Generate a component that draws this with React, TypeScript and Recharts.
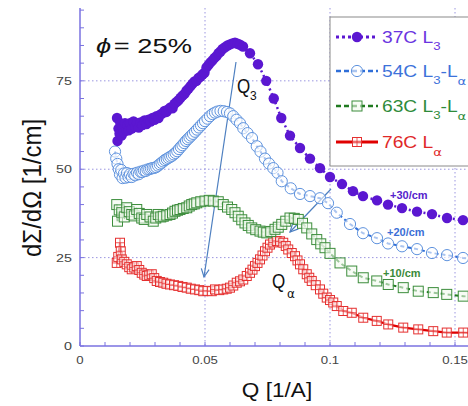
import React from 'react';
import { LineChart, Line, XAxis, YAxis, CartesianGrid, Customized } from 'recharts';

// ---------- data ----------
const q37 = [0.0148,0.015,0.0154,0.0158,0.0162,0.0166,0.017,0.0175,0.018,0.0185,0.019,0.0195,0.02,0.0207,0.0214,0.0221,0.0228,0.0235,0.0242,0.025,0.0258,0.0266,0.0274,0.0282,0.029,0.0298,0.0306,0.0314,0.0322,0.033,0.0338,0.0346,0.0354,0.0362,0.037,0.0378,0.0386,0.0394,0.0402,0.041,0.0418,0.0426,0.0434,0.0442,0.045,0.0458,0.0466,0.0474,0.0482,0.049,0.0498,0.0506,0.0514,0.0522,0.053,0.0538,0.0546,0.0554,0.0562,0.057,0.058,0.059,0.06,0.061,0.062,0.063,0.064,0.0652,0.068,0.0712,0.0745,0.0775,0.0805,0.084,0.088,0.092,0.096,0.1,0.1048,0.1092,0.1132,0.1188,0.1232,0.1288,0.1348,0.1408,0.1468,0.1532,0.159,0.165];
const v37 = [64.5,58,61.5,60,63,59.5,62,60.5,63,61,62.5,61,63,61.5,63.5,62,63,61.8,63.2,62.5,63.8,62.8,64,63.5,64.5,64,65,64.5,65.5,65.8,66.5,66.2,67,67.5,67.2,68.5,69,69.5,70.2,70.8,71.3,72.2,72.8,73.5,74.2,74.8,75,75.8,76.2,76.8,77.3,78.8,79.5,80.2,80.8,81.5,82,82.8,83.3,84,84.5,85,85.3,85.6,85.8,85.5,85.2,84.7,82.8,79.7,75,70,64.5,59.5,56,53,50.3,47.8,45.8,43.8,42.4,41.2,40,39,38,37.3,36.2,35.6,35,34.5];

const q54 = [0.014,0.0145,0.015,0.0155,0.016,0.0165,0.017,0.0176,0.0182,0.0188,0.0194,0.02,0.0207,0.0214,0.0221,0.0228,0.0235,0.0242,0.0249,0.0256,0.0263,0.027,0.0277,0.0284,0.0291,0.0298,0.0305,0.0312,0.0319,0.0326,0.0333,0.034,0.0347,0.0354,0.0361,0.0368,0.0375,0.0382,0.0389,0.0396,0.0403,0.041,0.0417,0.0424,0.0431,0.0438,0.0445,0.0452,0.046,0.0468,0.0476,0.0484,0.0492,0.05,0.051,0.052,0.053,0.054,0.055,0.0562,0.0575,0.0588,0.06,0.0613,0.0626,0.064,0.0653,0.067,0.0688,0.0707,0.0722,0.074,0.0756,0.0773,0.079,0.0807,0.0843,0.088,0.092,0.096,0.0992,0.1027,0.108,0.1132,0.1188,0.1232,0.1288,0.1348,0.1408,0.1468,0.1532,0.159,0.165];
const v54 = [55,53,51.5,50,48.5,49.8,47.5,48.8,47.6,48.9,47.8,48.6,47.8,48.7,48.3,49,48.6,49.3,49.2,49.6,49.5,49.9,50,50.2,50.3,50.4,50.6,51,51.4,51.8,52.2,52.6,52.9,53.2,53.5,53.8,54.2,54.6,55.1,55.7,56.3,56.8,57.4,58,58.5,59,59.5,60,60.6,61.2,61.8,62.4,63,63.6,64.3,65,65.6,66,66.3,66.5,66.4,66.2,65.8,65,64,63,61.6,60.2,58.8,56.5,55,53,51.6,50.3,49,46.6,44.6,43,42.4,41.8,40.4,37.7,34.5,31.9,30.5,29,28.2,27.4,26.3,25.7,24.9,24.4,24];

const q63 = [0.0147,0.015,0.0157,0.0167,0.0177,0.0187,0.0197,0.0207,0.0217,0.0227,0.0237,0.0247,0.0257,0.0267,0.028,0.0293,0.0303,0.0313,0.0323,0.0333,0.0347,0.036,0.037,0.038,0.039,0.04,0.0413,0.0427,0.0437,0.0447,0.0457,0.0467,0.0483,0.05,0.0517,0.0533,0.0553,0.0573,0.059,0.0607,0.062,0.0633,0.0647,0.066,0.0673,0.0687,0.0703,0.072,0.0733,0.0747,0.0763,0.078,0.0793,0.0807,0.0823,0.084,0.0857,0.0873,0.089,0.0907,0.0927,0.0947,0.0963,0.098,0.1,0.104,0.1087,0.1133,0.1187,0.1233,0.1293,0.1353,0.1413,0.1467,0.1533,0.159,0.165];
const v63 = [40,35.3,38.5,37.7,36.5,39.1,38,37.2,36.8,38.6,37.5,36.2,35.8,37.2,36.5,35.3,36.2,37.2,36.5,36.7,37,37.2,37.6,38.1,38.4,38.6,38.9,39.1,39.6,40,40.2,40.5,40.8,41,41.2,41,40.8,40,39.3,38.6,37.7,36.7,35.7,34.8,34.1,33.4,32.9,32.5,32.2,32,32.4,33,33.6,34.4,35.3,36.2,36.1,35.8,34.7,33.4,31.7,30.1,28.9,27.8,26.2,23.5,21.2,19.3,18.4,17.4,16.5,15.5,15.1,14.6,14.1,13.7,13.4];

const q76 = [0.0147,0.0153,0.016,0.0163,0.0167,0.0177,0.0187,0.0197,0.0207,0.0217,0.0227,0.0237,0.0247,0.0257,0.0267,0.0277,0.0287,0.0297,0.0307,0.032,0.0333,0.0346,0.036,0.0376,0.0393,0.041,0.0427,0.0443,0.046,0.0477,0.0493,0.051,0.0527,0.054,0.0557,0.0573,0.0587,0.06,0.0613,0.0627,0.064,0.0653,0.0667,0.068,0.069,0.07,0.071,0.072,0.073,0.074,0.075,0.076,0.0773,0.0787,0.08,0.0813,0.0823,0.0833,0.0847,0.086,0.087,0.088,0.0893,0.0907,0.0917,0.0927,0.0943,0.096,0.0973,0.0987,0.1,0.1013,0.1027,0.1053,0.1087,0.1133,0.1187,0.1233,0.1293,0.1353,0.1413,0.1467,0.1533,0.159,0.165];
const v76 = [23.5,25.2,29.2,26.8,24.5,23.8,23.1,22.3,21.7,22.2,22.6,21.5,20.7,20.2,19.8,20,20.3,19.2,18.4,18.1,17.9,17.6,17.4,17.2,17,16.7,16.5,16.2,16,15.8,15.5,15.6,15.5,16,15.8,16,16.2,16.5,17.1,17.9,18.3,18.8,19.8,20.7,21.6,22.6,23.5,24.5,25.6,26.8,27.8,28.7,29.3,29.7,29.6,29.2,28.3,27.3,26.3,25.4,24.2,23.1,21.7,20.3,19.3,18.4,17.2,16,14.8,13.7,13,12.3,11.3,9.9,9.4,8,7.1,6.1,5.2,4.7,4.2,3.8,3.8,3.5,3.3];

const xTicks = [0,0.01,0.02,0.03,0.04,0.05,0.06,0.07,0.08,0.09,0.1,0.11,0.12,0.13,0.14,0.15,0.16];
const xLabelValues = [0,0.05,0.1,0.15];
const xTickLabels = ['0','0.05','0.1','0.15'];
const yTicks = [0,5,10,15,20,25,30,35,40,45,50,55,60,65,70,75,80,85,90,95];
const yLabelValues = [0,25,50,75];
const yTickLabels = ['0','25','50','75'];

const legendParts = [
  [['37C L', false], ['3', true]],
  [['54C L', false], ['3', true], ['-L', false], ['α', true]],
  [['63C L', false], ['3', true], ['-L', false], ['α', true]],
  [['76C L', false], ['α', true]],
];

// ---------- style ----------
const FONT = '"Liberation Sans", Arial, sans-serif';
const AXIS = '#7a72e0';
const PURPLE = '#5b17d1';
const BLUE = '#5f93de';
const BLUE_LINE = '#2f6ed8';
const GREEN = '#3c8d3c';
const GREEN_LINE = '#1f7a1f';
const RED = '#e53030';

const rows = (q: number[], v: number[]) => q.map((x, i) => ({ q: x, v: v[i] }));
const d37 = rows(q37, v37);
const d54 = rows(q54, v54);
const d63 = rows(q63, v63);
const d76 = rows(q76, v76);

const SText = ({ x, y, sx = 1, anchor = 'start', size = 12, color = '#222', weight = 'normal', rotate = 0, family = FONT, children }: any) => (
  <g transform={`translate(${x},${y}) scale(${sx},1)${rotate ? ` rotate(${rotate})` : ''}`}>
    <text x={0} y={0} textAnchor={anchor} fontSize={size} fill={color} fontWeight={weight} fontFamily={family}>
      {children}
    </text>
  </g>
);

const purpleDot = (cx: number, cy: number, key?: any) => <circle key={key} cx={cx} cy={cy} r={5.2} fill={PURPLE} />;
const blueDot = (cx: number, cy: number, key?: any) => (
  <circle key={key} cx={cx} cy={cy} r={5.6} fill="#fff" fillOpacity={0.6} stroke={BLUE} strokeWidth={1} />
);
const greenDot = (cx: number, cy: number, key?: any) => (
  <rect key={key} x={cx - 5} y={cy - 5} width={10} height={10} fill="#f2faee" fillOpacity={0.6} stroke={GREEN} strokeWidth={1} />
);
const redDot = (cx: number, cy: number, key?: any) => (
  <g key={key}>
    <rect x={cx - 4.5} y={cy - 4.5} width={9} height={9} fill="#fff" fillOpacity={0.6} stroke={RED} strokeWidth={1} />
    <line x1={cx - 4.5} x2={cx + 4.5} y1={cy} y2={cy} stroke={RED} strokeWidth={0.8} />
    <line x1={cx} x2={cx} y1={cy - 4.5} y2={cy + 4.5} stroke={RED} strokeWidth={0.8} />
  </g>
);

const mkDot = (fn: any) => (p: any) => {
  if (p.cx == null || p.cy == null) return <g key={`e${p.index}`} />;
  return fn(p.cx, p.cy, `d${p.index}`);
};

const YTick = (p: any) => {
  const { x, y, payload } = p;
  const idx = yLabelValues.indexOf(payload.value);
  return (
    <g>
      <line x1={x} x2={x + 4} y1={y} y2={y} stroke={AXIS} strokeWidth={1} />
      {idx >= 0 && (
        <SText x={x - 8} y={y + 4} sx={1.3} anchor="end" size={11} color="#444">
          {yTickLabels[idx]}
        </SText>
      )}
    </g>
  );
};

const XTick = (p: any) => {
  const { x, y, payload } = p;
  const idx = xLabelValues.findIndex((v) => Math.abs(v - payload.value) < 1e-9);
  return (
    <g>
      <line x1={x} x2={x} y1={y} y2={y - 4} stroke={AXIS} strokeWidth={1} />
      {idx >= 0 && (
        <SText x={x} y={y + 18} sx={1.2} anchor="middle" size={11} color="#444">
          {xTickLabels[idx]}
        </SText>
      )}
    </g>
  );
};

const TopTick = (p: any) => {
  const { x, y } = p;
  return <line x1={x} x2={x} y1={y} y2={y + 4} stroke={AXIS} strokeWidth={1} />;
};

const Arrow = ({ x1, y1, x2, y2, color = '#4d7fc0' }: any) => {
  const a = Math.atan2(y2 - y1, x2 - x1);
  const L = 9;
  const s = 0.45;
  const p1 = [x2 - L * Math.cos(a - s), y2 - L * Math.sin(a - s)];
  const p2 = [x2 - L * Math.cos(a + s), y2 - L * Math.sin(a + s)];
  return (
    <g stroke={color} strokeWidth={1.2} fill="none">
      <line x1={x1} y1={y1} x2={x2} y2={y2} />
      <polyline points={`${p1[0]},${p1[1]} ${x2},${y2} ${p2[0]},${p2[1]}`} />
    </g>
  );
};

const legendStyles = [
  { color: PURPLE, text: '#6a35e0', dash: '3 3', w: 3, dot: purpleDot },
  { color: BLUE_LINE, text: '#3d72da', dash: '5 3', w: 2.5, dot: blueDot },
  { color: GREEN_LINE, text: '#2e8b3a', dash: '5 3', w: 2.5, dot: greenDot },
  { color: '#e00000', text: '#e02828', dash: undefined, w: 3, dot: redDot },
];

const Overlay = () => {
  const rowY = [37, 71, 106, 142];
  return (
    <g>
      {/* annotations */}
      <SText x={96} y={53} sx={1.3} size={21} color="#111">
        <tspan fontStyle="italic">ϕ</tspan>
        <tspan dx={2}>= 25%</tspan>
      </SText>
      <SText x={237} y={93} sx={0.85} size={20} color="#111">Q</SText>
      <SText x={250} y={100} size={12} color="#111">3</SText>
      <SText x={272} y={288} sx={0.85} size={20} color="#111">Q</SText>
      <SText x={287} y={298} size={12} color="#111" family="DejaVu Sans">α</SText>
      <Arrow x1={236} y1={62} x2={204} y2={277} />
      <Arrow x1={331} y1={189} x2={290} y2={232} />
      <SText x={390} y={199} size={11} weight="bold" color="#5522cc">+30/cm</SText>
      <SText x={387} y={236} size={11} weight="bold" color="#3b6fd6">+20/cm</SText>
      <SText x={383} y={277} size={11} weight="bold" color="#3a8a3a">+10/cm</SText>
      {/* legend */}
      <rect x={330} y={17} width={160} height={149} fill="#fff" stroke="#8a8a8a" strokeWidth={1} />
      {legendStyles.map((st, i) => (
        <g key={i}>
          <line x1={336} x2={378} y1={rowY[i]} y2={rowY[i]} stroke={st.color} strokeWidth={st.w} strokeDasharray={st.dash} />
          {st.dot(357, rowY[i])}
          <SText x={382} y={rowY[i] + 6} sx={1.2} size={16} color={st.text}>
            {legendParts[i].map((part: any, j: number) => {
              const sub = part[1];
              const prevSub = j > 0 && legendParts[i][j - 1][1];
              const dy = sub ? (part[0] === 'α' ? 8 : 7) : prevSub ? -7 : 0;
              return (
                <tspan key={j} fontSize={sub ? 11 : 16} dy={dy} fontFamily={part[0] === 'α' ? 'DejaVu Sans' : FONT}>
                  {part[0]}
                </tspan>
              );
            })}
          </SText>
        </g>
      ))}
      {/* axis titles */}
      <SText x={41} y={188} sx={1.1} size={24} rotate={-90} anchor="middle" color="#111">dΣ/dΩ [1/cm]</SText>
      <SText x={277} y={397} sx={1.13} size={20} anchor="middle" color="#111">Q [1/A]</SText>
    </g>
  );
};

export default function App() {
  return (
    <div style={{ position: 'absolute', left: 0, top: 0, width: 468, height: 406, overflow: 'hidden', background: '#fff' }}>
      <LineChart width={500} height={406} margin={{ top: 8, right: 0, left: 30, bottom: 30 }}>
        <CartesianGrid
          horizontalValues={[25, 50, 75]}
          verticalValues={[0.05, 0.1, 0.15]}
          stroke="#9a95e0"
          strokeDasharray="1.5 2.5"
          strokeWidth={1}
        />
        <XAxis
          type="number"
          dataKey="q"
          domain={[0, 0.168]}
          allowDataOverflow
          ticks={xTicks}
          interval={0}
          height={30}
          tickSize={0}
          tickMargin={0}
          tickLine={false}
          tick={<XTick />}
          axisLine={{ stroke: AXIS, strokeWidth: 1.5 }}
        />
        <XAxis
          xAxisId="top"
          orientation="top"
          type="number"
          dataKey="q"
          domain={[0, 0.168]}
          allowDataOverflow
          ticks={xTicks}
          interval={0}
          height={0}
          tickSize={0}
          tickMargin={0}
          tickLine={false}
          tick={<TopTick />}
          axisLine={{ stroke: AXIS, strokeWidth: 1.5 }}
        />
        <YAxis
          type="number"
          dataKey="v"
          domain={[0, 95.6]}
          allowDataOverflow
          ticks={yTicks}
          interval={0}
          width={50}
          tickSize={0}
          tickMargin={0}
          tickLine={false}
          tick={<YTick />}
          axisLine={{ stroke: AXIS, strokeWidth: 1.5 }}
        />
        <Line data={d76} dataKey="v" type="linear" stroke="#e00000" strokeWidth={2.2} dot={mkDot(redDot)} activeDot={false} isAnimationActive={false} />
        <Line data={d63} dataKey="v" type="linear" stroke={GREEN_LINE} strokeWidth={2} strokeDasharray="4 3" dot={mkDot(greenDot)} activeDot={false} isAnimationActive={false} />
        <Line data={d54} dataKey="v" type="linear" stroke={BLUE_LINE} strokeWidth={2} strokeDasharray="4 3" dot={mkDot(blueDot)} activeDot={false} isAnimationActive={false} />
        <Line data={d37} dataKey="v" type="linear" stroke={PURPLE} strokeWidth={2.5} strokeDasharray="2 3" dot={mkDot(purpleDot)} activeDot={false} isAnimationActive={false} />
        <Customized component={Overlay} />
      </LineChart>
    </div>
  );
}
